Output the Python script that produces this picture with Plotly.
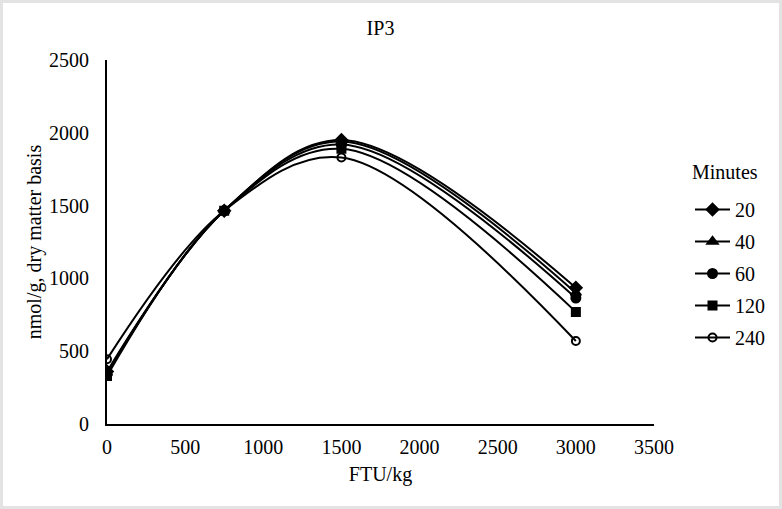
import plotly.graph_objects as go

ftu = [0, 750, 1500, 3000]
minutes = ["20", "40", "60", "120", "240"]
values = {
    "20": [360, 1465, 1950, 935],
    "40": [350, 1465, 1940, 900],
    "60": [345, 1465, 1920, 865],
    "120": [330, 1465, 1890, 770],
    "240": [445, 1465, 1830, 570],
}
symbols = {
    "20": "diamond",
    "40": "triangle-up",
    "60": "circle",
    "120": "square",
    "240": "circle-open",
}
sizes = {"20": 9, "40": 9, "60": 9, "120": 8, "240": 8}

FONT = "Times New Roman"
FS = 20

fig = go.Figure()
for m in minutes:
    fig.add_trace(go.Scatter(
        x=ftu, y=values[m], name=m, mode="lines+markers",
        line=dict(color="black", width=2, shape="spline", smoothing=1.0),
        marker=dict(symbol=symbols[m], size=sizes[m], color="black",
                    line=dict(color="black", width=2)),
        legendgroup=m,
    ))

W, H = 782, 509
ml, mr, mt, mb = 107, 128, 60, 85
pw, ph = W - ml - mr, H - mt - mb

# light gray frame around the chart
fig.add_shape(type="rect", xref="paper", yref="paper",
              x0=(-ml + 1.5) / pw, x1=1 + (mr - 1.5) / pw,
              y0=(-mb + 1.5) / ph, y1=1 + (mt - 1.5) / ph,
              line=dict(color="#e3e3e3", width=3), fillcolor="rgba(0,0,0,0)",
              layer="below")

# legend title
fig.add_annotation(text="Minutes", xref="paper", yref="paper",
                   x=1 + 36 / pw, xanchor="left", y=1 - 112 / ph, yanchor="middle",
                   showarrow=False, font=dict(family=FONT, size=FS))

fig.update_layout(
    width=W, height=H,
    margin=dict(l=ml, r=mr, t=mt, b=mb, autoexpand=False),
    paper_bgcolor="white", plot_bgcolor="white",
    font=dict(family=FONT, size=FS, color="black"),
    title=dict(text="IP3", x=(ml + pw / 2) / W, xanchor="center",
               y=1 - 28 / H, yanchor="middle", font=dict(family=FONT, size=FS)),
    showlegend=True,
    legend=dict(x=1 + 36 / pw, xanchor="left", y=1 - 130 / ph, yanchor="top",
                font=dict(family=FONT, size=FS), tracegroupgap=3, itemwidth=35,
                bgcolor="rgba(0,0,0,0)"),
    xaxis=dict(range=[0, 3500], tickvals=[0, 500, 1000, 1500, 2000, 2500, 3000, 3500],
               showgrid=False, zeroline=False, showline=True, linecolor="black",
               linewidth=2, ticks="", automargin=False, ticklabelstandoff=4,
               tickfont=dict(family=FONT, size=FS),
               title=dict(text="FTU/kg", standoff=10, font=dict(family=FONT, size=FS))),
    yaxis=dict(range=[0, 2500], tickvals=[0, 500, 1000, 1500, 2000, 2500],
               showgrid=False, zeroline=False, showline=True, linecolor="black",
               linewidth=2, ticks="", automargin=False, ticklabelstandoff=12,
               tickfont=dict(family=FONT, size=FS),
               title=dict(text="nmol/g, dry matter basis", standoff=2,
                          font=dict(family=FONT, size=FS))),
)

fig.write_html("out.html", config={"displayModeBar": False},
               post_script="document.body.style.margin='0';")
